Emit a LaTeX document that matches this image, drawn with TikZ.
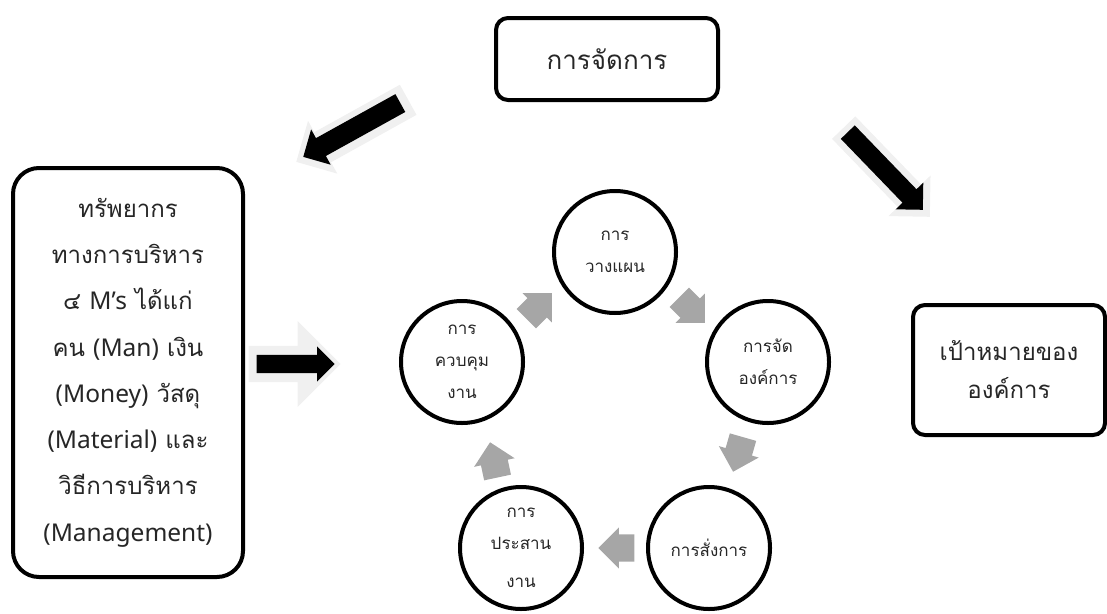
\documentclass[tikz,border=0pt]{standalone}
\usepackage{fontspec}
\newfontfamily\thaifont[Script=Thai]{Loma}
\newfontfamily\latfont{Noto Sans}
\newcommand{\lat}[1]{{\latfont\fontsize{24.5}{46.3}\selectfont #1}}
\usetikzlibrary{shapes.arrows}
\definecolor{txt}{HTML}{262626}
\definecolor{arrgray}{HTML}{A6A6A6}
\definecolor{glow}{HTML}{F0F0F0}
\begin{document}
\begin{tikzpicture}[x=1pt,y=-1pt,
  box/.style={draw, line width=4pt, rounded corners=12pt, align=center, text=txt, inner sep=0pt},
  circ/.style={circle, draw, line width=4pt, minimum size=122pt, inner sep=0pt, align=center, text=txt,
    font=\thaifont\fontsize{17}{32}\selectfont},
  blk/.style={single arrow, fill=black, draw=none, inner xsep=0pt, minimum width=0pt},
  glw/.style={single arrow, fill=glow, draw=none, inner xsep=0pt, minimum width=0pt},
  garr/.style={single arrow, fill=arrgray, draw=none, inner xsep=0pt, inner ysep=13.5pt, minimum width=0pt,
    single arrow head extend=7pt, minimum height=36pt, anchor=tip}
]
\useasboundingbox (0,0) rectangle (1107,613);

% boxes
\node[box, minimum width=222pt, minimum height=82pt, font=\thaifont\fontsize{26}{30}\selectfont]
  (mgmt) at (607,59) {การจัดการ};
\node[box, rounded corners=26pt, minimum width=230pt, minimum height=409pt,
  font=\thaifont\fontsize{24}{46.3}\selectfont]
  (res) at (128,372.5) {ทรัพยากร\\ทางการบริหาร\\๔ \lat{M’s} ได้แก่\\คน \lat{(Man)} เงิน\\\lat{(Money)} วัสดุ\\\lat{(Material)} และ\\วิธีการบริหาร\\\lat{(Management)}};
\node[box, minimum width=192pt, minimum height=130pt, font=\thaifont\fontsize{24}{38}\selectfont]
  (goal) at (1009,370) {เป้าหมายของ\\องค์การ};

% circles
\node[circ] (plan) at (615,252) {การ\\วางแผน};
\node[circ] (org) at (768,362) {การจัด\\องค์การ};
\node[circ] (cmd) at (709,548) {การสั่งการ};
\node[circ] (coord) at (521,548) {การ\\ประสาน\\[6pt]งาน};
\node[circ] (ctrl) at (462,362) {การ\\ควบคุม\\งาน};

% glow behind black arrows
\node[glw, anchor=tip, rotate=209, minimum height=128pt, inner ysep=17pt, single arrow head extend=13pt] (g1) at (296,162) {};
\node[glw, anchor=tip, rotate=-46, minimum height=124pt, inner ysep=16pt, single arrow head extend=13pt] (g2) at (930,217) {};
\node[glw, anchor=tip, rotate=0, minimum height=92pt, inner ysep=18pt, single arrow head extend=25pt] (g3) at (341,364) {};

% black arrows
\node[blk, anchor=tip, rotate=209, minimum height=111pt, inner ysep=10pt, single arrow head extend=10pt] (a1) at (303,157) {};
\node[blk, anchor=tip, rotate=-46, minimum height=108pt, inner ysep=9.5pt, single arrow head extend=9.5pt] (a2) at (923,210) {};
\node[blk, anchor=tip, rotate=0, minimum height=78pt, inner ysep=9pt, single arrow head extend=8.5pt] (a3) at (335,364) {};

% gray cycle arrows
\node[garr, rotate=45] (c1) at (552,293) {};
\node[garr, rotate=-45] (c2) at (705,323) {};
\node[garr, rotate=-106] (c3) at (733,472) {};
\node[garr, rotate=180] (c4) at (598,548) {};
\node[garr, rotate=102] (c5) at (490,442) {};
\end{tikzpicture}
\end{document}
